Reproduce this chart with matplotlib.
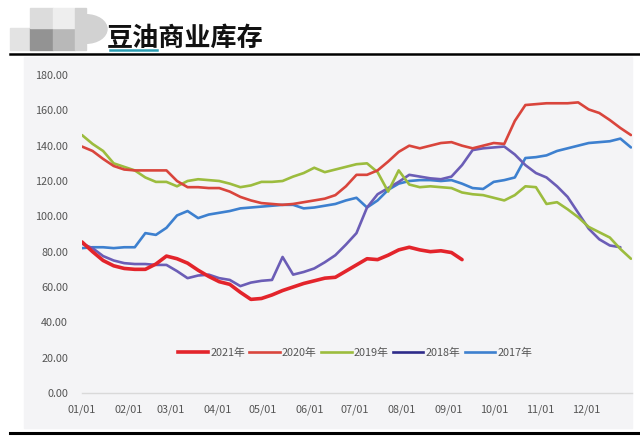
import matplotlib
matplotlib.use("Agg")
import matplotlib.pyplot as plt
from matplotlib.patches import Rectangle, Wedge
from matplotlib.lines import Line2D

plt.rcParams['font.family'] = ['Noto Sans CJK SC', 'DejaVu Sans']

# weekly soybean oil commercial stocks (10k t), week 0 = 01/01
s2021 = [85.5, 80, 75, 72, 70.5, 70, 70, 73, 77.5, 76, 73.5, 69.5, 66, 63, 61.5, 57,
         53, 53.5, 55.5, 58, 60, 62, 63.5, 65, 65.5, 69, 72.5, 76, 75.5, 78, 81, 82.5,
         81, 80, 80.5, 79.5, 75.5]
s2020 = [139.5, 137, 132.5, 128.5, 126.5, 126, 126, 126, 126, 120, 116.5, 116.5, 116,
         116, 114, 111, 109, 107.5, 107, 106.5, 107, 108, 109, 110, 112, 117, 123.5,
         123.5, 126, 131, 136.5, 140, 138.5, 140, 141.5, 142, 140, 138.5, 140, 141.5,
         141, 154, 163, 163.5, 164, 164, 164, 164.5, 160.5, 158.5, 154.5, 150, 146]
s2019 = [146, 141, 137, 130, 128, 126, 122, 119.5, 119.5, 117, 120, 121, 120.5, 120,
         118.5, 116.5, 117.5, 119.5, 119.5, 120, 122.5, 124.5, 127.5, 125, 126.5, 128,
         129.5, 130, 125, 114, 126, 118, 116.5, 117, 116.5, 116, 113.5, 112.5, 112,
         110.5, 109, 112, 117, 116.5, 107, 108, 104, 99.5, 94, 91, 88, 81.5, 76]
s2018 = [84.5, 82, 77.5, 75, 73.5, 73, 73, 72.5, 72.5, 69, 65, 66.5, 67, 65, 64, 60.5,
         62.5, 63.5, 64, 77, 67, 68.5, 70.5, 74, 78, 84, 90.5, 105, 112.5, 116, 119.5,
         123.5, 122.5, 121.5, 121, 122.5, 129, 137.5, 138.5, 139, 139.5, 135, 129,
         124.5, 122, 117, 111, 102, 93, 87, 83.5, 82.5]
s2017 = [82, 82.5, 82.5, 82, 82.5, 82.5, 90.5, 89.5, 93.5, 100.5, 103, 99, 101, 102,
         103, 104.5, 105, 105.5, 106, 106.5, 106.5, 104.5, 105, 106, 107, 109, 110.5,
         105, 109, 115, 118.5, 120, 120.5, 120.5, 120, 120.5, 118.5, 116, 115.5, 119.5,
         120.5, 122, 133, 133.5, 134.5, 137, 138.5, 140, 141.5, 142, 142.5, 144, 139]

series_names = ['2021年', '2020年', '2019年', '2018年', '2017年']
month_labels = ['01/01', '02/01', '03/01', '04/01', '05/01', '06/01',
                '07/01', '08/01', '09/01', '10/01', '11/01', '12/01']
month_days = [0, 31, 59, 90, 120, 151, 181, 212, 243, 273, 304, 334]
y_ticks = [0, 20, 40, 60, 80, 100, 120, 140, 160, 180]

W, H = 640, 436
fig = plt.figure(figsize=(W / 100, H / 100), dpi=100)
fig.patch.set_facecolor('white')

# header: grey logo blocks, title, rules
def px_rect(x0, y0, x1, y1, color):
    fig.patches.append(Rectangle((x0 / W, 1 - y1 / H), (x1 - x0) / W, (y1 - y0) / H,
                                 transform=fig.transFigure, color=color, zorder=-5))

px_rect(10, 28, 30, 50, '#e3e3e3')
px_rect(30, 28, 53, 50, '#939393')
px_rect(53, 28, 75, 50, '#b8b8b8')
px_rect(30, 8, 53, 28, '#dcdcdc')
px_rect(53, 8, 75, 28, '#eeeeee')
px_rect(75, 8, 86, 50, '#d2d2d2')
fig.patches.append(Wedge((86 / W, 1 - 29 / H), 21 / W, -90, 90, transform=fig.transFigure,
                         color='#d2d2d2', zorder=-5))

fig.text(107 / W, 1 - 38 / H, '豆油商业库存', fontsize=18.8, fontweight='bold',
         color='#111111', va='center', ha='left')
fig.add_artist(Line2D([110 / W, 157 / W], [1 - 50 / H, 1 - 50 / H], color='#2a9db3', lw=1.8))
fig.add_artist(Line2D([10 / W, 1], [1 - 54 / H, 1 - 54 / H], color='black', lw=1.8))
fig.add_artist(Line2D([10 / W, 1], [1 - 433 / H, 1 - 433 / H], color='black', lw=2.2))

# chart panel
px_rect(24, 57, 632, 428, '#f4f4f6')

ax = fig.add_axes([82 / W, (H - 393) / H, (632 - 82) / W, (393 - 75) / H])
ax.set_facecolor('none')
ax.set_zorder(2)

colors = ['#e3242b', '#d9453c', '#9cbc3e', '#6b5db6', '#3d80cf']
widths = [2.6, 1.9, 1.9, 1.9, 1.9]
data = [s2021, s2020, s2019, s2018, s2017]
for i in range(len(data) - 1, -1, -1):
    ax.plot(range(len(data[i])), data[i], color=colors[i], lw=widths[i],
            solid_capstyle='round', zorder=3 + (len(data) - i))

ax.set_xlim(0, 52.1)
ax.set_ylim(0, 180)
ax.set_yticks(y_ticks)
ax.set_yticklabels(['%.2f' % v for v in y_ticks])
ax.set_xticks([d / 7 for d in month_days])
ax.set_xticklabels(month_labels)
ax.tick_params(axis='both', length=0, labelsize=7.8, labelcolor='#555555')
ax.tick_params(axis='y', pad=10)
ax.tick_params(axis='x', pad=8)
for side in ['top', 'right', 'left']:
    ax.spines[side].set_visible(False)
ax.spines['bottom'].set_color('#d9d9d9')
ax.spines['bottom'].set_linewidth(1)

legend_colors = ['#e3242b', '#d9453c', '#9cbc3e', '#2e2b8a', '#3d80cf']
handles = [Line2D([], [], color=c, lw=w) for c, w in zip(legend_colors, widths)]
leg = fig.legend(handles, series_names, loc='center', bbox_to_anchor=(355 / W, 1 - 353 / H),
                 ncol=5, frameon=False, fontsize=7.8, labelcolor='#555555',
                 handlelength=2.8, handletextpad=0.2, columnspacing=0.4)
leg.set_zorder(3)

fig.savefig('out.png', dpi=100)
